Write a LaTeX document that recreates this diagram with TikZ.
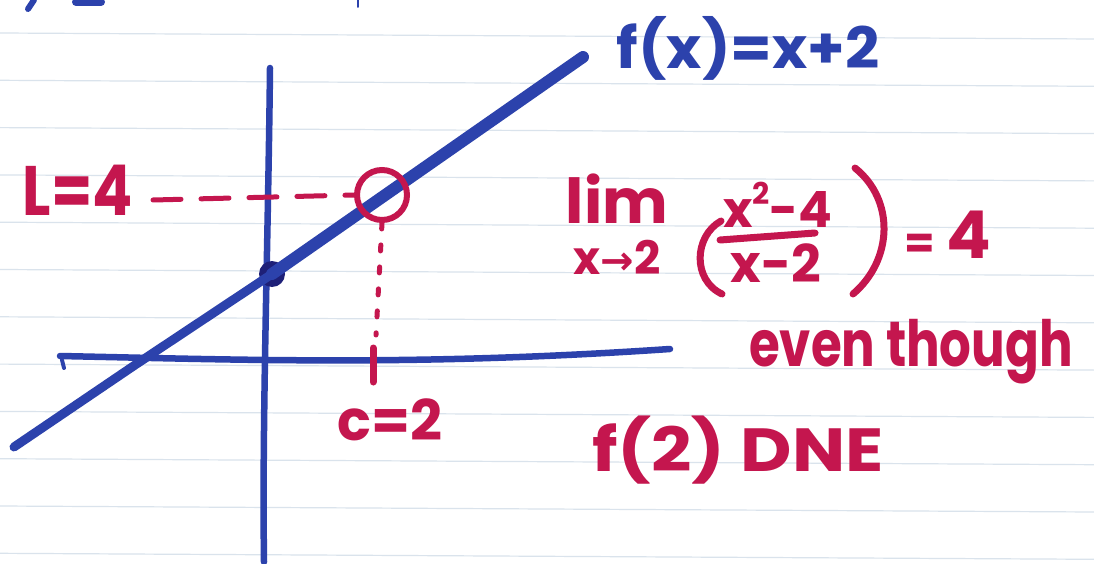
\documentclass[tikz,border=0pt]{standalone}
\usepackage{fontspec}
\setmainfont{Poppins}
\newfontfamily\arrowfont{DejaVu Sans}
\newcommand\hwsize[1]{\fontsize{#1}{#1}\selectfont}
\definecolor{blueink}{RGB}{44,66,172}
\definecolor{navyink}{RGB}{30,32,120}
\definecolor{redink}{RGB}{196,22,78}
\definecolor{ruled}{RGB}{218,227,236}
\begin{document}
\begin{tikzpicture}[x=1pt,y=-1pt,
  ruleline/.style={draw=ruled, line width=1.2},
  bluepen/.style={draw=blueink, line cap=round, line join=round},
  redpen/.style={draw=redink, line cap=round, line join=round},
  redtext/.style={text=redink, font=\bfseries, inner sep=0pt},
  bluetext/.style={text=blueink, font=\bfseries, inner sep=0pt}]
\useasboundingbox[fill=white] (0,0) rectangle (1094,564);
% ruled paper
\foreach \k in {0,...,11}{
  \draw[ruleline] (0,{33+47.3*\k}) -- (1094,{39+47.3*\k});
}
% cut-off strokes at the top edge
\draw[bluepen, line width=6] (28,9) -- (34,0);
\draw[bluepen, line width=8] (76,2) -- (101,2);
\draw[bluepen, line width=2] (358,0) -- (358,7);
% axes
\coordinate (ytop) at (270,68);
\coordinate (ybot) at (264,562);
\coordinate (xleft) at (60,356);
\coordinate (xright) at (670,349);
\draw[bluepen, line width=6.5] (ytop) .. controls (268,250) and (262,420) .. (ybot);
\draw[bluepen, line width=6.5] (xleft) .. controls (250,360) and (420,366) .. (xright);
\draw[bluepen, line width=4] (62,360) -- (64,368);
% the line f(x)=x+2
\coordinate (fstart) at (14,447);
\coordinate (fend) at (583,57);
\node[circle, fill=navyink, minimum size=26, inner sep=0] (dot) at (272,274) {};
\draw[bluepen, line width=9] (fstart) -- (135,365) -- (dot.center);
\draw[bluepen, line width=12] (dot.center) -- (fend);
% open circle
\node[circle, draw=redink, line width=6, minimum size=50, inner sep=0] (circ) at (382,195) {};
% labels
\node[redtext] (lblL) at (78,190) {\scalebox{0.85}[1]{\hwsize{70}L=4}};
\node[redtext] (lblc) at (390,420) {\hwsize{56}c=2};
\node[bluetext] (lblf) at (748,48) {\scalebox{1.05}[1]{\hwsize{57}f(x)=x+2}};
% dashed and dotted guides
\coordinate (dashstart) at (153,200);
\draw[redpen, line width=5, dash pattern=on 28 off 20] (dashstart) -- (circ.west);
\coordinate (tickend) at (373,382);
\draw[redpen, line width=5, dash pattern=on 6 off 16] (circ.south) -- (376,335);
\draw[redpen, line width=7] (373,348) -- (tickend);
% limit
\node[redtext] (lim) at (617,199) {\hwsize{62}lim};
\node[redtext] (limsub) at (617,257) {\hwsize{46}x{\arrowfont\hwsize{40}→}2};
\draw[redpen, line width=7] (721,221) .. controls (694,236) and (692,280) .. (722,294);
\draw[redpen, line width=7] (855,168) .. controls (895,200) and (893,260) .. (853,294);
\node[redtext] (num) at (778,205) {\hwsize{50}x\raisebox{0.45em}{\hwsize{30}2}-4};
\draw[redpen, line width=7] (720,240) -- (815,233);
\node[redtext] (den) at (776,263) {\hwsize{52}x-2};
\node[redtext, anchor=base west] (eq4) at (904,258) {{\hwsize{44}=}\hspace{12pt}{\hwsize{66}4}};
\node[redtext] (even) at (911,352) {\scalebox{0.86}[1.1]{\hwsize{58}even though}};
\node[redtext] (fdne) at (738,450) {\scalebox{1.22}[1.05]{\hwsize{58}f(2) DNE}};
\end{tikzpicture}
\end{document}
